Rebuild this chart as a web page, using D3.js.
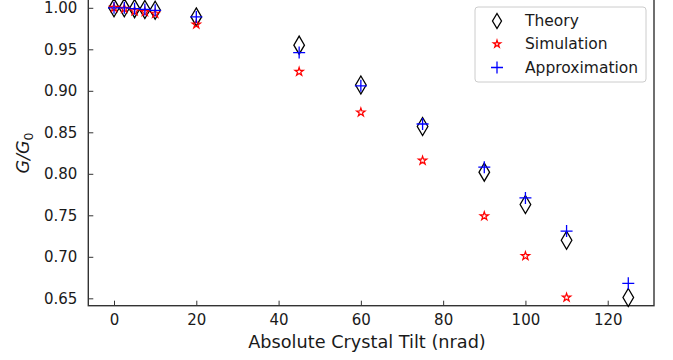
<!DOCTYPE html>
<html><head><meta charset="utf-8">
<script src="https://cdn.jsdelivr.net/npm/d3@7"></script>
<style>body{margin:0;background:#fff}svg{display:block}text{font-family:"DejaVu Sans",sans-serif;fill:#1a1a1a}</style>
</head><body>
<svg id="c" width="673" height="360"></svg>
<script>
const tilt = [0, 2.5, 5, 7.5, 10, 20, 45, 60, 75, 90, 100, 110, 125];
const theory = [1.000, 1.000, 0.999, 0.998, 0.997, 0.989, 0.955, 0.907, 0.857, 0.802, 0.763, 0.720, 0.651];
const simTilt = [0, 2.5, 5, 7.5, 10, 20, 45, 60, 75, 90, 100, 110];
const simulation = [1.000, 0.999, 0.996, 0.995, 0.993, 0.980, 0.923, 0.874, 0.816, 0.749, 0.701, 0.651];
const approximation = [1.000, 1.000, 0.999, 0.998, 0.997, 0.989, 0.946, 0.906, 0.860, 0.808, 0.771, 0.731, 0.668];
const xTicks = [0, 20, 40, 60, 80, 100, 120];
const yTicks = [0.65, 0.70, 0.75, 0.80, 0.85, 0.90, 0.95, 1.00];
const seriesNames = ["Theory", "Simulation", "Approximation"];

const svg = d3.select("#c");
const L = 88.3, R = 654, T = -1, B = 305.7;
const x = d3.scaleLinear().domain([-6.25, 131.25]).range([L, R]);
const y = d3.scaleLinear().domain([0.6411, 1.0106]).range([B, T]);

// axes (inward ticks)
const xAxis = svg.append("g").attr("transform", `translate(0,${B})`)
  .call(d3.axisBottom(x).tickValues(xTicks).tickSizeInner(-5).tickSizeOuter(0).tickPadding(11).tickFormat(d3.format("d")));
const yAxis = svg.append("g").attr("transform", `translate(${L},0)`)
  .call(d3.axisLeft(y).tickValues(yTicks).tickSizeInner(-5).tickSizeOuter(0).tickPadding(11).tickFormat(d3.format(".2f")));
[xAxis, yAxis].forEach(a => {
  a.select(".domain").remove();
  a.selectAll(".tick line").attr("stroke", "#333").attr("stroke-width", 1);
  a.selectAll(".tick text").attr("font-size", 15).attr("fill", "#1a1a1a").attr("font-family", "DejaVu Sans");
});
xAxis.selectAll(".tick text").attr("dy", "0.55em");

// frame
svg.append("rect").attr("x", L).attr("y", T).attr("width", R - L).attr("height", B - T)
  .attr("fill", "none").attr("stroke", "#333").attr("stroke-width", 1.4);

// marker paths
function diamond(hw, hh) { return `M0,${-hh}L${hw},0L0,${hh}L${-hw},0Z`; }
function star(ro) {
  const ri = ro * 0.381966; let p = "";
  for (let i = 0; i < 10; i++) {
    const r = i % 2 ? ri : ro, a = -Math.PI / 2 + i * Math.PI / 5;
    p += (i ? "L" : "M") + (r * Math.cos(a)).toFixed(2) + "," + (r * Math.sin(a)).toFixed(2);
  }
  return p + "Z";
}
function plus(h) { return `M${-h},0L${h},0M0,${-h}L0,${h}`; }

const dPath = diamond(5.3, 9), sPath = star(4.4), pPath = plus(6);

const plot = svg.append("g");
plot.selectAll(".th").data(tilt.map((t, i) => [t, theory[i]])).join("path")
  .attr("d", dPath).attr("transform", d => `translate(${x(d[0])},${y(d[1])})`)
  .attr("fill", "none").attr("stroke", "#000").attr("stroke-width", 1.3);
plot.selectAll(".si").data(simTilt.map((t, i) => [t, simulation[i]])).join("path")
  .attr("d", sPath).attr("transform", d => `translate(${x(d[0])},${y(d[1])})`)
  .attr("fill", "none").attr("stroke", "#f00").attr("stroke-width", 1.2);
plot.selectAll(".ap").data(tilt.map((t, i) => [t, approximation[i]])).join("path")
  .attr("d", pPath).attr("transform", d => `translate(${x(d[0])},${y(d[1])})`)
  .attr("fill", "none").attr("stroke", "#00f").attr("stroke-width", 1.3);

// axis labels
svg.append("text").attr("x", 367).attr("y", 348).attr("text-anchor", "middle")
  .attr("font-size", 17.7).text("Absolute Crystal Tilt (nrad)");
const yl = svg.append("text").attr("transform", "translate(29,153) rotate(-90)").attr("text-anchor", "middle")
  .attr("font-size", 17.5).attr("font-style", "italic");
yl.append("tspan").text("G/G");
yl.append("tspan").attr("font-size", 12.5).attr("dy", 4).attr("font-style", "normal").text("0");

// legend
const lg = svg.append("g");
lg.append("rect").attr("x", 475).attr("y", 7).attr("width", 171).attr("height", 75).attr("rx", 3)
  .attr("fill", "#fff").attr("fill-opacity", 0.8).attr("stroke", "#ccc").attr("stroke-width", 1);
const lgColors = ["#000", "#f00", "#00f"];
const lgY = [21, 44, 67.5];
seriesNames.forEach((n, i) => {
  lg.append("path").attr("d", i === 0 ? diamond(4.5, 7.5) : i === 1 ? star(3.8) : pPath)
    .attr("transform", `translate(497,${lgY[i]})`)
    .attr("fill", "none").attr("stroke", lgColors[i]).attr("stroke-width", 1.3);
  lg.append("text").attr("x", 525).attr("y", lgY[i]).attr("dy", "0.35em").attr("font-size", 15.5).text(n);
});
</script>
</body></html>
